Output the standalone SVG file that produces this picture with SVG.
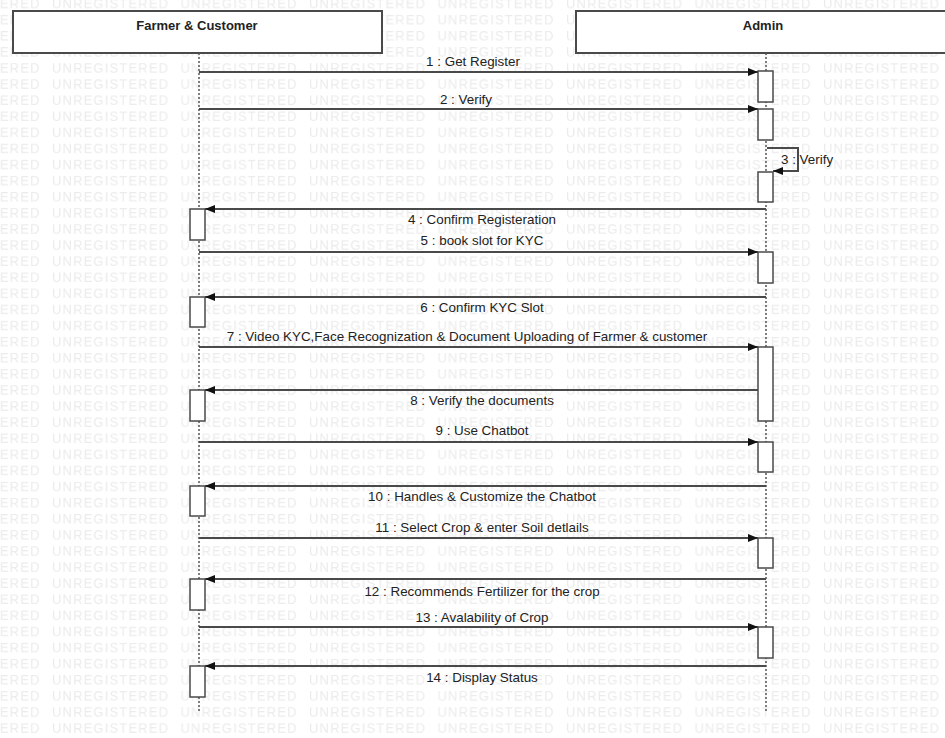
<svg xmlns="http://www.w3.org/2000/svg" width="945" height="738" viewBox="0 0 945 738">
<style>
.wm{font-family:"Liberation Sans",Arial,sans-serif;font-size:13px;fill:#ebebeb}
.hdr{fill:#fff;stroke:#4a4a4a;stroke-width:2}
.htxt{font-family:"Liberation Sans",Arial,sans-serif;font-size:13px;font-weight:bold;fill:#222;text-anchor:middle}
.life{stroke:#555;stroke-width:1.5;stroke-dasharray:2 2;fill:none}
.act{fill:#fff;stroke:#4a4a4a;stroke-width:1.5}
.msg{stroke:#4a4a4a;stroke-width:2;fill:none}
.lbl{font-family:"Liberation Sans",Arial,sans-serif;font-size:13.4px;fill:#222;text-anchor:middle}
</style>
<defs>
<pattern id="wmpat" x="52" y="-4" width="128.5" height="16.1" patternUnits="userSpaceOnUse">
<text class="wm" x="0" y="12.5" textLength="116">UNREGISTERED</text>
</pattern>
<marker id="arr" viewBox="0 0 10 8" refX="10" refY="4" markerWidth="10" markerHeight="8" markerUnits="userSpaceOnUse" orient="auto">
<path d="M0,0 L10,4 L0,8 Z" fill="#111"/>
</marker>
</defs>
<rect x="0" y="0" width="945" height="738" fill="#fff"/>
<rect x="0" y="0" width="945" height="738" fill="url(#wmpat)"/>

<g id="farmer">
<rect class="hdr" x="13" y="11" width="369" height="42"/>
<text class="htxt" x="197" y="30">Farmer &amp; Customer</text>
<line class="life" x1="199" y1="53" x2="199" y2="711"/>
<rect class="act" x="190" y="209" width="15" height="31"/>
<rect class="act" x="190" y="297" width="15" height="30"/>
<rect class="act" x="190" y="390" width="15" height="31"/>
<rect class="act" x="190" y="486" width="15" height="30"/>
<rect class="act" x="190" y="579" width="15" height="31"/>
<rect class="act" x="190" y="666" width="15" height="31"/>
</g>

<g id="admin">
<rect class="hdr" x="576" y="11" width="376" height="42"/>
<text class="htxt" x="763" y="30">Admin</text>
<line class="life" x1="766" y1="53" x2="766" y2="711"/>
<rect class="act" x="758" y="71" width="15" height="31"/>
<rect class="act" x="758" y="109" width="15" height="31"/>
<rect class="act" x="758" y="172" width="15" height="30"/>
<rect class="act" x="758" y="252" width="15" height="31"/>
<rect class="act" x="758" y="347" width="15" height="74"/>
<rect class="act" x="758" y="442" width="15" height="30"/>
<rect class="act" x="758" y="538" width="15" height="30"/>
<rect class="act" x="758" y="627" width="15" height="31"/>
</g>

<g id="connectors">
<line class="msg" x1="199" y1="72" x2="758" y2="72" marker-end="url(#arr)"/>
<text class="lbl" x="473" y="66">1 : Get Register</text>
<line class="msg" x1="199" y1="109" x2="758" y2="109" marker-end="url(#arr)"/>
<text class="lbl" x="466" y="104">2 : Verify</text>
<path class="msg" d="M767,148 H798 V171 H773" marker-end="url(#arr)"/>
<text class="lbl" x="781" y="164" style="text-anchor:start">3 : Verify</text>
<line class="msg" x1="766" y1="209" x2="205" y2="209" marker-end="url(#arr)"/>
<text class="lbl" x="482" y="224">4 : Confirm Registeration</text>
<line class="msg" x1="199" y1="252" x2="758" y2="252" marker-end="url(#arr)"/>
<text class="lbl" x="482" y="245">5 : book slot for KYC</text>
<line class="msg" x1="766" y1="297" x2="205" y2="297" marker-end="url(#arr)"/>
<text class="lbl" x="482" y="312">6 : Confirm KYC Slot</text>
<line class="msg" x1="199" y1="347" x2="758" y2="347" marker-end="url(#arr)"/>
<text class="lbl" x="467" y="341">7 : Video KYC,Face Recognization &amp; Document Uploading of Farmer &amp; customer</text>
<line class="msg" x1="758" y1="390" x2="205" y2="390" marker-end="url(#arr)"/>
<text class="lbl" x="482" y="405">8 : Verify the documents</text>
<line class="msg" x1="199" y1="442" x2="758" y2="442" marker-end="url(#arr)"/>
<text class="lbl" x="482" y="435">9 : Use Chatbot</text>
<line class="msg" x1="766" y1="486" x2="205" y2="486" marker-end="url(#arr)"/>
<text class="lbl" x="482" y="501">10 : Handles &amp; Customize the Chatbot</text>
<line class="msg" x1="199" y1="538" x2="758" y2="538" marker-end="url(#arr)"/>
<text class="lbl" x="482" y="532">11 : Select Crop &amp; enter Soil detlails</text>
<line class="msg" x1="766" y1="579" x2="205" y2="579" marker-end="url(#arr)"/>
<text class="lbl" x="482" y="596">12 : Recommends Fertilizer for the crop</text>
<line class="msg" x1="199" y1="627" x2="758" y2="627" marker-end="url(#arr)"/>
<text class="lbl" x="482" y="622">13 : Avalability of Crop</text>
<line class="msg" x1="766" y1="666" x2="205" y2="666" marker-end="url(#arr)"/>
<text class="lbl" x="482" y="682">14 : Display Status</text>
</g>
</svg>
